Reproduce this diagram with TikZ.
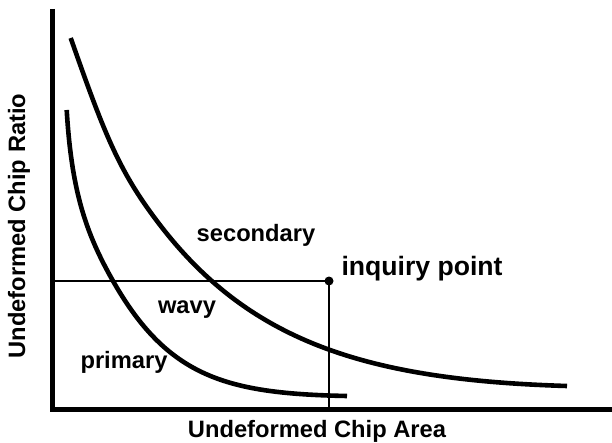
\documentclass[tikz,border=0pt]{standalone}
\usepackage{tikz}
\usepackage{amsmath}
\usepackage{xcolor}
\usepackage{fontspec}
\setmainfont{Liberation Sans}

\begin{document}
\begin{tikzpicture}[x=1pt,y=-1pt,font=\fontsize{23.7}{28}\selectfont\bfseries]
            \useasboundingbox (0,0) rectangle (612,443);
            \coordinate (O) at (52.5,409);
            \coordinate (Y) at (52.5,9);
            \coordinate (X) at (612,409);
            \coordinate (QY) at (52.5,281);
            \coordinate (QX) at (329,409);
            \node[circle,fill=black,inner sep=0pt,minimum size=9pt] (Q) at (329,281) {};

            \coordinate (P1) at (66.7,110);
            \coordinate (P2) at (113.3,281.5);
            \coordinate (P3) at (347,396);
            \coordinate (S1) at (70.7,38);
            \coordinate (S2) at (160,225);
            \coordinate (S3) at (567,386);

            \draw[line width=5pt] (Y) -- (O) -- (X);
            \draw[line width=2.2pt] (QY) -- (Q.center) -- (QX);

            \draw[line width=4.6pt] (P1) .. controls (71.5,190) and (85.3,232.5) .. (P2)
                .. controls (168.3,377.8) and (227,393.6) .. (P3);
            \draw[line width=4.6pt] (S1) .. controls (105.7,137.8) and (120,173) .. (S2)
                .. controls (250,342) and (367,380) .. (S3);

            \node[anchor=base] (sec) at (256,242) {secondary};
            \node[anchor=base] (wavy) at (187,313) {wavy};
            \node[anchor=base] (prim) at (124,368) {primary};
            \node[anchor=base west,font=\fontsize{26.6}{31}\selectfont\bfseries] (inq) at (338,275) {inquiry point};
            \node[anchor=base] (xlab) at (317,437) {Undeformed Chip Area};
            \node[anchor=base,rotate=90] (ylab) at (25,226) {Undeformed Chip Ratio};
        \end{tikzpicture}
\end{document}
